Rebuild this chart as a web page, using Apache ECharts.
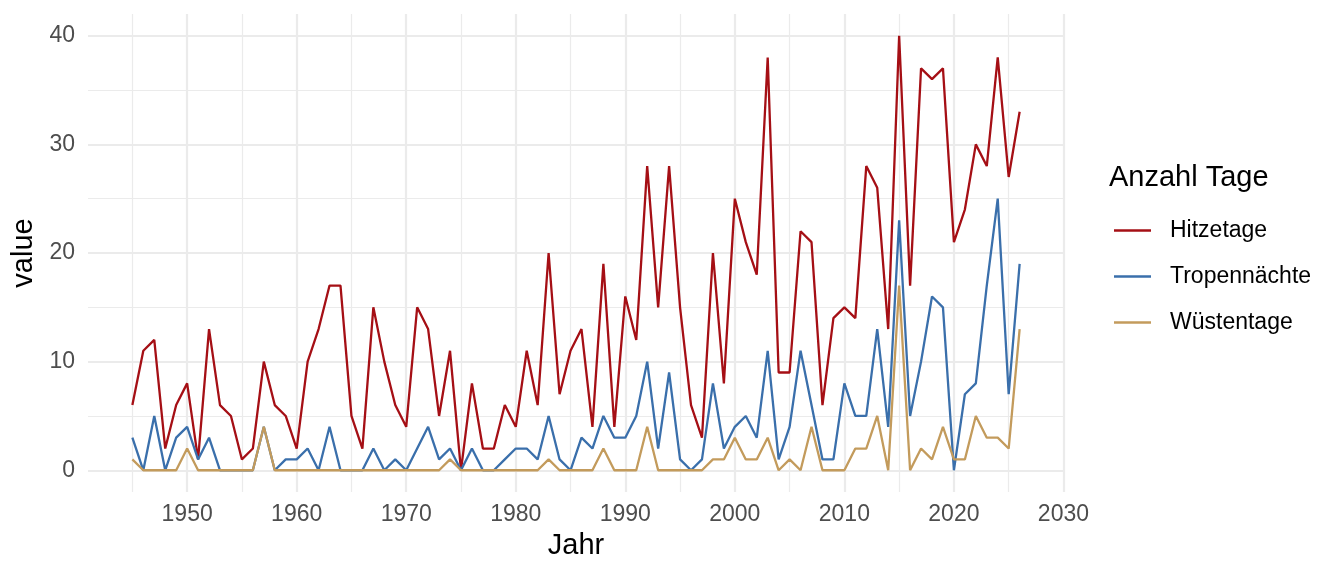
<html>
	<head>
		<meta http-equiv="content-type" content="text/html; charset=utf-8">
		<script src="https://cdn.jsdelivr.net/npm/echarts@6/dist/echarts.min.js"></script>
		<style>
			html, body { margin: 0; padding: 0; background: #ffffff; }
			#chart { width: 1344px; height: 576px; }
		</style>
		<title>Anzahl Tage</title>
	</head>
	<body>
		<div id="chart"></div>
		<script type="text/javascript">
////////////////////////////////////////////////////////////////////////////
// data
var years = [
	1945,1946,1947,1948,1949,1950,1951,1952,1953,1954,
	1955,1956,1957,1958,1959,1960,1961,1962,1963,1964,
	1965,1966,1967,1968,1969,1970,1971,1972,1973,1974,
	1975,1976,1977,1978,1979,1980,1981,1982,1983,1984,
	1985,1986,1987,1988,1989,1990,1991,1992,1993,1994,
	1995,1996,1997,1998,1999,2000,2001,2002,2003,2004,
	2005,2006,2007,2008,2009,2010,2011,2012,2013,2014,
	2015,2016,2017,2018,2019,2020,2021,2022,2023,2024,
	2025,2026];

var hitzetage = [
	6,11,12,2,6,8,1,13,6,5,
	1,2,10,6,5,2,10,13,17,17,
	5,2,15,10,6,4,15,13,5,11,
	0,8,2,2,6,4,11,6,20,7,
	11,13,4,19,4,16,12,28,15,28,
	15,6,3,20,8,25,21,18,38,9,
	9,22,21,6,14,15,14,28,26,13,
	40,17,37,36,37,21,24,30,28,38,
	27,33];

var tropennaechte = [
	3,0,5,0,3,4,1,3,0,0,
	0,0,4,0,1,1,2,0,4,0,
	0,0,2,0,1,0,2,4,1,2,
	0,2,0,0,1,2,2,1,5,1,
	0,3,2,5,3,3,5,10,2,9,
	1,0,1,8,2,4,5,3,11,1,
	4,11,6,1,1,8,5,5,13,4,
	23,5,10,16,15,0,7,8,17,25,
	7,19];

var wuestentage = [
	1,0,0,0,0,2,0,0,0,0,
	0,0,4,0,0,0,0,0,0,0,
	0,0,0,0,0,0,0,0,0,1,
	0,0,0,0,0,0,0,0,1,0,
	0,0,0,2,0,0,0,4,0,0,
	0,0,0,1,1,3,1,1,3,0,
	1,0,4,0,0,0,2,2,5,0,
	17,0,2,1,4,1,1,5,3,3,
	2,13];

var x_major = [1950,1960,1970,1980,1990,2000,2010,2020,2030];
var x_minor = [1945,1955,1965,1975,1985,1995,2005,2015,2025];
var y_major = [0,10,20,30,40];
var y_minor = [5,15,25,35];

var series_names = ["Hitzetage", "Tropennächte", "Wüstentage"];
var series_colors = ["#a50f15", "#3a6fab", "#c39b5c"];

////////////////////////////////////////////////////////////////////////////
// helpers
var font = "'Liberation Sans', Arial, Helvetica, sans-serif";
var grid_col = "#ebebeb";

function pairs(ys) {
	var d = [];
	for (var i=0; i<years.length; i++) d.push([years[i], ys[i]]);
	return d;
}

function line(name, ys, col) {
	return {
		name: name,
		type: 'line',
		xAxisIndex: 0,
		yAxisIndex: 0,
		symbol: 'none',
		lineStyle: {color: col, width: 2.3},
		itemStyle: {color: col},
		data: pairs(ys),
	};
}

function axis_x(values, major) {
	return {
		type: 'value',
		min: 1940.95,
		max: 2030.05,
		position: 'bottom',
		name: major ? 'Jahr' : '',
		nameLocation: 'middle',
		nameGap: 39,
		nameTextStyle: {color: '#000000', fontSize: 29, fontFamily: font},
		axisLine: {show: false},
		axisTick: {show: false, customValues: values},
		axisLabel: {
			show: major,
			customValues: values,
			formatter: function(v) { return String(v); },
			margin: 11,
			color: '#4d4d4d',
			fontSize: 23,
			fontFamily: font,
		},
		splitLine: {show: true, lineStyle: {color: grid_col, width: major ? 2.2 : 1.2}},
	};
}

function axis_y(values, major) {
	return {
		type: 'value',
		min: -2,
		max: 42,
		position: 'left',
		name: major ? 'value' : '',
		nameLocation: 'middle',
		nameGap: 48,
		nameTextStyle: {color: '#000000', fontSize: 29, fontFamily: font},
		axisLine: {show: false},
		axisTick: {show: false, customValues: values},
		axisLabel: {
			show: major,
			customValues: values,
			margin: 13,
			color: '#4d4d4d',
			fontSize: 23,
			fontFamily: font,
		},
		splitLine: {show: true, lineStyle: {color: grid_col, width: major ? 2.2 : 1.2}},
	};
}

////////////////////////////////////////////////////////////////////////////
// chart
var chart = echarts.init(document.getElementById('chart'));

var chart_option = {
	animation: false,
	backgroundColor: '#ffffff',
	grid: {left: 88, right: 280, top: 14, bottom: 84, containLabel: false},
	xAxis: [axis_x(x_major, true), axis_x(x_minor, false)],
	yAxis: [axis_y(y_major, true), axis_y(y_minor, false)],
	legend: {
		orient: 'vertical',
		left: 1114,
		top: 219,
		padding: 0,
		itemWidth: 37,
		itemHeight: 23,
		itemGap: 23,
		icon: 'path://M0,10.3 L37,10.3 L37,12.7 L0,12.7 Z',
		data: series_names,
		textStyle: {color: '#000000', fontSize: 23, fontFamily: font, padding: [0, 0, 0, 14]},
	},
	graphic: [{
		type: 'text',
		left: 1109,
		top: 163,
		style: {text: 'Anzahl Tage', fill: '#000000', font: '29px ' + font},
	}],
	series: [
		line(series_names[0], hitzetage, series_colors[0]),
		line(series_names[1], tropennaechte, series_colors[1]),
		line(series_names[2], wuestentage, series_colors[2]),
	],
};

chart.setOption(chart_option);
		</script>
	</body>
</html>
